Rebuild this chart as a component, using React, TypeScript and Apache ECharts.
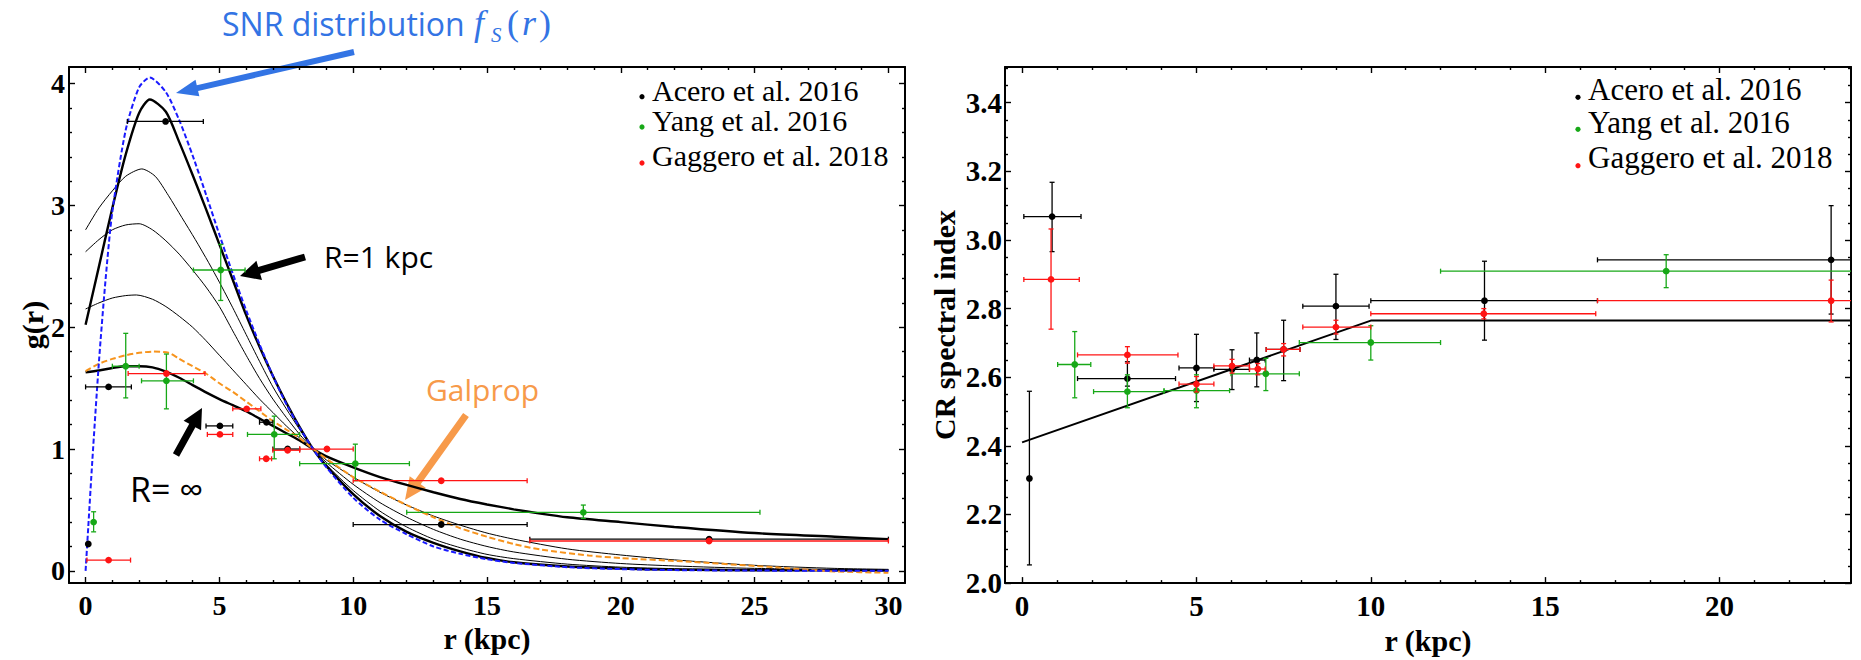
import React, { useEffect, useRef } from "react";
import * as echarts from "echarts";

type Pt = [number, number];
// [r, value, rLow, rHigh, valueLow, valueHigh]
type Obs = [number, number, number, number, number, number];

// ---------- left panel: g(r) ----------
const rTicksLeft = [0, 5, 10, 15, 20, 25, 30];
const gTicks = [0, 1, 2, 3, 4];

const snrCurve: Pt[] = [
  [0, 0], [0.1, 0.36], [0.25, 0.9], [0.5, 1.72], [0.75, 2.4], [1, 2.95], [1.5, 3.62], [2, 3.97],
  [2.4, 4.05], [3, 3.93], [3.5, 3.7], [4, 3.41], [4.5, 3.09], [5, 2.76], [5.5, 2.44], [6, 2.14],
  [6.5, 1.86], [7, 1.6], [7.5, 1.37], [8, 1.175], [8.5, 1.0], [9, 0.85], [10, 0.6], [11, 0.42],
  [12, 0.3], [13, 0.2], [14, 0.14], [15, 0.095], [16, 0.065], [18, 0.03], [20, 0.014], [22, 0.006],
  [25, 0.002], [30, 0],
];
const gR1: Pt[] = [
  [0, 2.02], [0.5, 2.5], [1, 2.98], [1.5, 3.42], [2, 3.76], [2.4, 3.87], [3, 3.77], [3.5, 3.52],
  [4, 3.25], [4.5, 2.97], [5, 2.68], [5.5, 2.39], [6, 2.1], [6.5, 1.84], [7, 1.6], [7.5, 1.38],
  [8, 1.18], [8.5, 1.0], [9, 0.86], [10, 0.63], [11, 0.45], [12, 0.32], [13, 0.23], [14, 0.16],
  [15, 0.105], [16, 0.07], [18, 0.035], [20, 0.018], [22, 0.01], [25, 0.005], [30, 0.002],
];
const gMidA: Pt[] = [
  [0, 2.8], [0.5, 2.98], [1, 3.12], [1.5, 3.24], [2.1, 3.3], [2.6, 3.24], [3.1, 3.08], [3.6, 2.9],
  [4.1, 2.72], [4.6, 2.53], [5, 2.37], [5.5, 2.16], [6, 1.94], [6.5, 1.72], [7, 1.51], [7.5, 1.33],
  [8, 1.16], [8.5, 1.0], [9, 0.87], [10, 0.66], [11, 0.49], [12, 0.36], [13, 0.26], [14, 0.19],
  [15, 0.135], [16, 0.1], [18, 0.055], [20, 0.03], [22, 0.018], [25, 0.009], [30, 0.004],
];
const gMidB: Pt[] = [
  [0, 2.62], [0.5, 2.72], [1, 2.8], [1.5, 2.84], [2, 2.85], [2.5, 2.8], [3, 2.71], [3.5, 2.6],
  [4, 2.47], [4.5, 2.33], [5, 2.17], [5.5, 1.97], [6, 1.77], [6.5, 1.58], [7, 1.41], [7.5, 1.26],
  [8, 1.12], [8.5, 1.0], [9, 0.89], [10, 0.71], [11, 0.56], [12, 0.44], [13, 0.34], [14, 0.26],
  [15, 0.2], [16, 0.155], [18, 0.095], [20, 0.06], [22, 0.04], [25, 0.02], [30, 0.008],
];
const gMidC: Pt[] = [
  [0, 2.15], [0.5, 2.2], [1, 2.24], [1.5, 2.26], [1.9, 2.265], [2.5, 2.23], [3, 2.17], [3.5, 2.09],
  [4, 2.0], [4.5, 1.89], [5, 1.77], [5.5, 1.65], [6, 1.53], [6.5, 1.41], [7, 1.3], [7.5, 1.19],
  [8, 1.09], [8.5, 1.0], [9, 0.91], [10, 0.77], [11, 0.645], [12, 0.54], [13, 0.45], [14, 0.375],
  [15, 0.31], [16, 0.26], [18, 0.18], [20, 0.13], [22, 0.09], [25, 0.045], [28, 0.02], [30, 0.012],
];
const gRinf: Pt[] = [
  [0, 1.63], [0.5, 1.645], [1, 1.665], [1.5, 1.68], [2, 1.68], [2.5, 1.67], [3, 1.635], [3.5, 1.585],
  [4, 1.525], [4.5, 1.465], [5, 1.41], [5.5, 1.36], [6, 1.31], [6.5, 1.25], [7, 1.19], [7.5, 1.13],
  [8, 1.07], [8.5, 1.0], [9, 0.94], [10, 0.85], [11, 0.77], [12, 0.705], [13, 0.645], [14, 0.59],
  [15, 0.545], [16, 0.505], [17, 0.47], [18, 0.44], [20, 0.4], [22, 0.36], [25, 0.31], [28, 0.28], [30, 0.26],
];
const gGalprop: Pt[] = [
  [0, 1.64], [0.5, 1.7], [1, 1.74], [1.5, 1.77], [2, 1.79], [2.5, 1.8], [3.1, 1.79], [3.5, 1.74],
  [4, 1.68], [4.5, 1.62], [5, 1.54], [5.5, 1.47], [6, 1.39], [6.5, 1.31], [7, 1.23], [7.5, 1.16],
  [8, 1.09], [8.5, 1.0], [9, 0.92], [10, 0.77], [11, 0.65], [12, 0.54], [13, 0.44], [14, 0.35],
  [15, 0.28], [16, 0.22], [17, 0.175], [18.8, 0.126], [20, 0.105], [22.6, 0.074], [25, 0.04],
  [26, 0.025], [28, -0.005], [30, -0.016],
];

const aceroG: Obs[] = [
  [0.1, 0.22, 0.1, 0.1, 0.22, 0.22],
  [0.86, 1.51, 0.0, 1.71, 1.51, 1.51],
  [2.99, 3.69, 1.56, 4.4, 3.69, 3.69],
  [5.02, 1.19, 4.5, 5.5, 1.19, 1.19],
  [6.76, 1.22, 6.5, 7.0, 1.22, 1.22],
  [7.55, 1.0, 7.0, 8.0, 1.0, 1.0],
  [13.29, 0.38, 10.0, 16.5, 0.38, 0.38],
  [23.3, 0.26, 16.6, 30.0, 0.26, 0.26],
];
const yangG: Obs[] = [
  [0.3, 0.4, 0.3, 0.3, 0.32, 0.485],
  [1.5, 1.68, 1.0, 2.0, 1.42, 1.95],
  [3.02, 1.56, 2.09, 4.03, 1.33, 1.78],
  [5.05, 2.47, 4.03, 5.96, 2.22, 2.68],
  [7.05, 1.12, 6.05, 8.0, 0.92, 1.27],
  [10.08, 0.88, 8.0, 12.1, 0.74, 1.04],
  [18.6, 0.48, 12.0, 25.2, 0.43, 0.54],
];
const gaggeroG: Obs[] = [
  [0.86, 0.088, 0.05, 1.68, 0.088, 0.088],
  [3.02, 1.62, 1.59, 4.46, 1.62, 1.62],
  [5.02, 1.12, 4.55, 5.5, 1.12, 1.12],
  [6.02, 1.33, 5.5, 6.55, 1.33, 1.33],
  [6.75, 0.92, 6.5, 6.95, 0.92, 0.92],
  [7.55, 0.99, 7.0, 8.0, 0.99, 0.99],
  [9.02, 1.0, 8.0, 10.0, 1.0, 1.0],
  [13.29, 0.74, 10.0, 16.5, 0.74, 0.74],
  [23.3, 0.245, 16.6, 30.0, 0.245, 0.245],
];

// ---------- right panel: CR spectral index ----------
const rTicksRight = [0, 5, 10, 15, 20];
const indexTicks = [2.0, 2.2, 2.4, 2.6, 2.8, 3.0, 3.2, 3.4];

const indexFit: Pt[] = [[0, 2.41], [10, 2.765], [24, 2.765]];

const aceroIdx: Obs[] = [
  [0.21, 2.305, 0.21, 0.21, 2.053, 2.559],
  [0.86, 3.068, 0.05, 1.69, 2.966, 3.168],
  [3.02, 2.596, 1.59, 4.4, 2.574, 2.645],
  [5.0, 2.627, 4.5, 5.5, 2.529, 2.725],
  [6.02, 2.623, 5.5, 6.52, 2.564, 2.68],
  [6.73, 2.65, 6.52, 6.97, 2.572, 2.729],
  [7.5, 2.681, 7.0, 7.97, 2.59, 2.766],
  [9.0, 2.807, 8.05, 9.95, 2.71, 2.9],
  [13.26, 2.823, 10.0, 16.5, 2.708, 2.938],
  [23.2, 2.942, 16.5, 24.5, 2.784, 3.1],
];
const yangIdx: Obs[] = [
  [1.51, 2.637, 1.02, 1.97, 2.54, 2.733],
  [3.02, 2.558, 2.05, 4.07, 2.511, 2.607],
  [5.0, 2.561, 4.07, 5.95, 2.511, 2.607],
  [6.99, 2.61, 5.99, 7.95, 2.561, 2.655],
  [10.0, 2.701, 7.95, 12.0, 2.65, 2.75],
  [18.47, 2.909, 12.0, 25.0, 2.861, 2.957],
];
const gaggeroIdx: Obs[] = [
  [0.83, 2.885, 0.05, 1.64, 2.74, 3.032],
  [3.02, 2.665, 1.59, 4.47, 2.641, 2.689],
  [5.0, 2.58, 4.5, 5.5, 2.557, 2.602],
  [6.02, 2.633, 5.5, 6.52, 2.612, 2.652],
  [6.76, 2.624, 6.52, 6.97, 2.607, 2.64],
  [7.5, 2.681, 7.0, 7.97, 2.662, 2.698],
  [9.0, 2.746, 8.05, 10.0, 2.726, 2.766],
  [13.24, 2.785, 10.0, 16.45, 2.77, 2.8],
  [23.2, 2.823, 16.5, 24.5, 2.761, 2.883],
];

const legendNames = ["Acero et al. 2016", "Yang et al. 2016", "Gaggero et al. 2018"];
const legendColors = ["#000000", "#17a817", "#ff1414"];

const SERIF = '"Liberation Serif", "Times New Roman", serif';
const SANS = '"Open Sans", "Noto Sans", sans-serif';
const BLUE = "#3374e4";
const ORANGE = "#f79a4a";

// positions of minor ticks between labelled ones
function steps(from: number, to: number, step: number, skipEvery: number): number[] {
  const out: number[] = [];
  const n = Math.round((to - from) / step);
  for (let i = 0; i <= n; i++) {
    if (i % skipEvery === 0) continue;
    out.push(+(from + i * step).toFixed(4));
  }
  return out;
}

function arrowShape(tail: Pt, tip: Pt, body: number, head: number, headLen: number): number[][] {
  const dx = tip[0] - tail[0];
  const dy = tip[1] - tail[1];
  const L = Math.hypot(dx, dy);
  const ux = dx / L, uy = dy / L;
  const nx = -uy, ny = ux;
  const bx = tip[0] - ux * headLen, by = tip[1] - uy * headLen;
  return [
    [tail[0] + (nx * body) / 2, tail[1] + (ny * body) / 2],
    [bx + (nx * body) / 2, by + (ny * body) / 2],
    [bx + (nx * head) / 2, by + (ny * head) / 2],
    [tip[0], tip[1]],
    [bx - (nx * head) / 2, by - (ny * head) / 2],
    [bx - (nx * body) / 2, by - (ny * body) / 2],
    [tail[0] - (nx * body) / 2, tail[1] - (ny * body) / 2],
  ];
}

function errorBars(color: string) {
  return (_params: any, api: any) => {
    const x = api.value(0), y = api.value(1);
    const xl = api.value(2), xh = api.value(3), yl = api.value(4), yh = api.value(5);
    const c = api.coord([x, y]);
    const st = { stroke: color, lineWidth: 1.3 };
    const kids: any[] = [];
    const cap = 2.5;
    if (xh > xl) {
      const a = api.coord([xl, y]);
      const b = api.coord([xh, y]);
      kids.push({ type: "line", shape: { x1: a[0], y1: a[1], x2: b[0], y2: b[1] }, style: st });
      kids.push({ type: "line", shape: { x1: a[0], y1: a[1] - cap, x2: a[0], y2: a[1] + cap }, style: st });
      kids.push({ type: "line", shape: { x1: b[0], y1: b[1] - cap, x2: b[0], y2: b[1] + cap }, style: st });
    }
    if (yh > yl) {
      const a = api.coord([x, yl]);
      const b = api.coord([x, yh]);
      kids.push({ type: "line", shape: { x1: a[0], y1: a[1], x2: b[0], y2: b[1] }, style: st });
      kids.push({ type: "line", shape: { x1: a[0] - cap, y1: a[1], x2: a[0] + cap, y2: a[1] }, style: st });
      kids.push({ type: "line", shape: { x1: b[0] - cap, y1: b[1], x2: b[0] + cap, y2: b[1] }, style: st });
    }
    kids.push({ type: "circle", shape: { cx: c[0], cy: c[1], r: 3.4 }, style: { fill: color } });
    return { type: "group", children: kids };
  };
}

const frameLine = { show: true, onZero: false, lineStyle: { color: "#000", width: 2 } };
const noLine = { show: false, onZero: false };
const tickStyle = { color: "#000", width: 1.4 };

function axisSet(
  dim: "x" | "y",
  grid: number,
  min: number,
  max: number,
  major: number[],
  minor: number[],
  labelSize: number,
  labelMargin: number,
  fmt: (v: number) => string,
  name: string,
  nameGap: number
) {
  const sides = dim === "x" ? ["bottom", "top"] : ["left", "right"];
  const base = { type: "value", gridIndex: grid, min, max, splitLine: { show: false } };
  return [
    {
      ...base,
      position: sides[0],
      axisLine: frameLine,
      axisTick: { inside: true, length: 6, customValues: major, lineStyle: tickStyle },
      axisLabel: {
        customValues: major,
        formatter: fmt,
        fontFamily: SERIF,
        fontWeight: "bold",
        fontSize: labelSize,
        color: "#000",
        margin: labelMargin,
      },
      name,
      nameLocation: "middle",
      nameGap,
      nameRotate: dim === "y" ? 90 : 0,
      nameTextStyle: { fontFamily: SERIF, fontWeight: "bold", fontSize: 30, color: "#000" },
    },
    {
      ...base,
      position: sides[0],
      axisLine: noLine,
      axisTick: { inside: true, length: 3, customValues: minor, lineStyle: tickStyle },
      axisLabel: { show: false },
    },
    {
      ...base,
      position: sides[1],
      axisLine: frameLine,
      axisTick: { inside: true, length: 6, customValues: major, lineStyle: tickStyle },
      axisLabel: { show: false },
    },
    {
      ...base,
      position: sides[1],
      axisLine: noLine,
      axisTick: { inside: true, length: 3, customValues: minor, lineStyle: tickStyle },
      axisLabel: { show: false },
    },
  ];
}

function curve(data: Pt[], width: number, color: string, dash?: number[]) {
  return {
    type: "line",
    data,
    xAxisIndex: 0,
    yAxisIndex: 0,
    showSymbol: false,
    symbol: "none",
    smooth: 0.25,
    clip: true,
    silent: true,
    z: 2,
    lineStyle: { color, width, type: dash ?? "solid" },
  };
}

function points(name: string, data: Obs[], color: string, axis: number) {
  return {
    type: "custom",
    name,
    data,
    xAxisIndex: axis,
    yAxisIndex: axis,
    encode: { x: [0, 2, 3], y: [1, 4, 5] },
    renderItem: errorBars(color),
    clip: true,
    silent: true,
    z: 3,
  };
}

function legendBlock(dotX: number, textX: number, dotYs: number[], textYs: number[], size: number) {
  const els: any[] = [];
  legendNames.forEach((n, i) => {
    els.push({ type: "circle", shape: { cx: dotX, cy: dotYs[i], r: 2.6 }, style: { fill: legendColors[i] } });
    els.push({
      type: "text",
      x: textX,
      y: textYs[i],
      style: { text: n, fontFamily: SERIF, fontSize: size, fill: "#000", verticalAlign: "middle", align: "left" },
    });
  });
  return els;
}

export default function App() {
  const ref = useRef<HTMLDivElement>(null);

  useEffect(() => {
    if (!ref.current) return;
    const chart = echarts.init(ref.current, undefined, { renderer: "svg" });

    const intFmt = (v: number) => String(Math.round(v));
    const oneDec = (v: number) => v.toFixed(1);

    const xAxes = [
      ...axisSet("x", 0, -0.62, 30.62, rTicksLeft, steps(0, 30, 1, 5), 28, 8, intFmt, "r (kpc)", 38),
      ...axisSet("x", 1, -0.49, 23.77, rTicksRight, steps(0, 23, 1, 5), 29, 8, intFmt, "r (kpc)", 40),
    ];
    const yAxes = [
      ...axisSet("y", 0, -0.1, 4.137, gTicks, steps(0, 4, 0.2, 5), 28, 4, intFmt, "g(r)", 20),
      ...axisSet("y", 1, 2.0, 3.504, indexTicks, steps(2.0, 3.5, 0.05, 4), 29, 3, oneDec, "CR spectral index", 46),
    ];

    const graphic: any[] = [
      // SNR distribution label with its arrow
      {
        type: "text",
        x: 222,
        y: 23,
        style: { text: "SNR distribution", fontFamily: SANS, fontSize: 32, fill: BLUE, verticalAlign: "middle" },
      },
      {
        type: "text",
        x: 474,
        y: 23,
        style: { text: "f", fontFamily: SERIF, fontStyle: "italic", fontSize: 36, fill: BLUE, verticalAlign: "middle" },
      },
      {
        type: "text",
        x: 491,
        y: 35,
        style: { text: "S", fontFamily: SERIF, fontStyle: "italic", fontSize: 21, fill: BLUE, verticalAlign: "middle" },
      },
      {
        type: "text",
        x: 507,
        y: 23,
        style: {
          text: "{p|(}{i|r}{p|)}",
          fill: BLUE,
          verticalAlign: "middle",
          rich: {
            p: { fontFamily: SERIF, fontSize: 36, fill: BLUE },
            i: { fontFamily: SERIF, fontSize: 36, fontStyle: "italic", fill: BLUE, padding: [0, 3, 0, 3] },
          },
        },
      },
      { type: "polygon", shape: { points: arrowShape([354, 52], [176, 93], 6, 17, 22) }, style: { fill: BLUE } },

      // R = 1 kpc
      {
        type: "text",
        x: 324,
        y: 256,
        style: { text: "R=1 kpc", fontFamily: SANS, fontSize: 30, fill: "#000", verticalAlign: "middle" },
      },
      { type: "polygon", shape: { points: arrowShape([305, 257], [240, 276], 7, 20, 20) }, style: { fill: "#000" } },

      // R = infinity
      {
        type: "text",
        x: 130,
        y: 489,
        style: { text: "R= ∞", fontFamily: SANS, fontSize: 34, fill: "#000", verticalAlign: "middle" },
      },
      { type: "polygon", shape: { points: arrowShape([176, 455], [202, 408], 7, 20, 20) }, style: { fill: "#000" } },

      // Galprop
      {
        type: "text",
        x: 426,
        y: 389,
        style: { text: "Galprop", fontFamily: SANS, fontSize: 30, fill: ORANGE, verticalAlign: "middle" },
      },
      { type: "polygon", shape: { points: arrowShape([466, 415], [405, 500], 7, 20, 22) }, style: { fill: ORANGE } },

      ...legendBlock(642, 652, [96.7, 127, 163], [90, 120, 155.6], 30),
      ...legendBlock(1578, 1588, [97.3, 129.3, 165.7], [89.5, 122.2, 157.8], 31),
    ];

    chart.setOption({
      animation: false,
      backgroundColor: "#ffffff",
      grid: [
        { left: 69, top: 67, width: 836, height: 516 },
        { left: 1005, top: 67, width: 846, height: 522 },
      ],
      xAxis: xAxes,
      yAxis: yAxes,
      graphic,
      series: [
        curve(gMidA, 1, "#000"),
        curve(gMidB, 1, "#000"),
        curve(gMidC, 1, "#000"),
        curve(gRinf, 2.4, "#000"),
        curve(gR1, 2.4, "#000"),
        curve(gGalprop, 2, "#f7941d", [6, 3]),
        curve(snrCurve, 2, "#1a1aff", [5, 2.5]),
        points(legendNames[0], aceroG, "#000000", 0),
        points(legendNames[1], yangG, "#17a817", 0),
        points(legendNames[2], gaggeroG, "#ff1414", 0),
        {
          type: "line",
          data: indexFit,
          xAxisIndex: 4,
          yAxisIndex: 4,
          showSymbol: false,
          symbol: "none",
          clip: true,
          silent: true,
          z: 2,
          lineStyle: { color: "#000", width: 2 },
        },
        points(legendNames[0], aceroIdx, "#000000", 4),
        points(legendNames[1], yangIdx, "#17a817", 4),
        points(legendNames[2], gaggeroIdx, "#ff1414", 4),
      ],
    });

    return () => chart.dispose();
  }, []);

  return (
    <div
      ref={ref}
      style={{ position: "fixed", left: 0, top: 0, width: 1861, height: 660, background: "#fff" }}
    />
  );
}
